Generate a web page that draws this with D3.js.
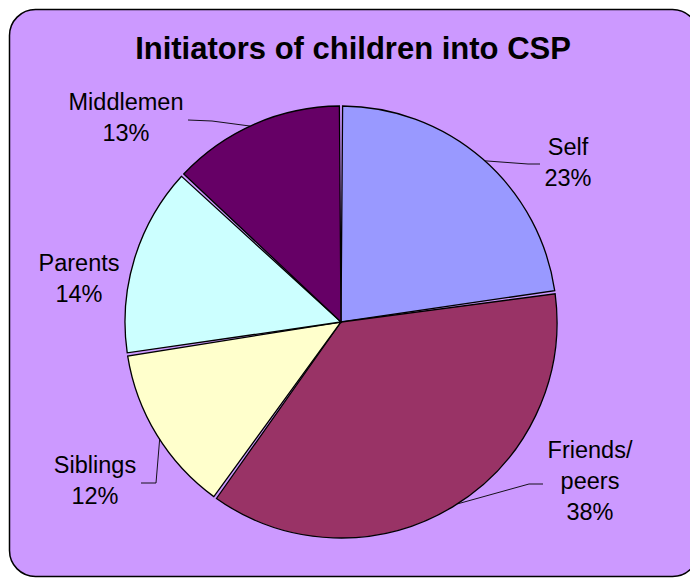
<!DOCTYPE html>
<html>
<head>
<meta charset="utf-8">
<script src="https://cdn.jsdelivr.net/npm/d3@7"></script>
<style>
html,body{margin:0;padding:0;background:#ffffff;}
svg{display:block;}
text{font-family:"Liberation Sans",Arial,sans-serif;}
</style>
</head>
<body>
<svg id="chart" width="690" height="578"></svg>
<script>
// ---- data ----
const categories = ["Self", "Friends/peers", "Siblings", "Parents", "Middlemen"];
// slice sizes as drawn in the reference (its labels show the rounded percentages)
const values = [22.8, 37.1, 12.7, 14.3, 13.1];
const labelLines = [["Self", "23%"], ["Friends/", "peers", "38%"], ["Siblings", "12%"], ["Parents", "14%"], ["Middlemen", "13%"]];
const colors = ["#9999FF", "#993366", "#FFFFCC", "#CCFFFF", "#660066"];
const title = "Initiators of children into CSP";

// ---- layout ----
const cx = 341, cy = 322, R = 216;
const svg = d3.select("#chart");

svg.append("rect")
  .attr("x", 9.5).attr("y", 9.5)
  .attr("width", 689).attr("height", 567)
  .attr("rx", 26).attr("ry", 26)
  .attr("fill", "#CC99FF")
  .attr("stroke", "#000").attr("stroke-width", 1.5);

svg.append("text")
  .attr("x", 353).attr("y", 59)
  .attr("text-anchor", "middle")
  .attr("font-size", 31).attr("font-weight", "bold")
  .attr("fill", "#000")
  .text(title);

const pie = d3.pie().sort(null).value(d => d)(values);
const arc = d3.arc().innerRadius(0).outerRadius(R).padRadius(R).padAngle(3.2 / R);

const g = svg.append("g").attr("transform", `translate(${cx},${cy})`);
g.selectAll("path.slice").data(pie).join("path")
  .attr("class", "slice")
  .attr("d", arc)
  .attr("fill", (d, i) => colors[i])
  .attr("stroke", "#000")
  .attr("stroke-width", 1.3)
  .attr("stroke-linejoin", "miter");

// label layout: text centre x, first baseline y, leader line [bend, end]
const labelPos = [
  {x: 568, y: 155, leader: [[528, 164], [540, 164]], leadAng: 0.7},
  {x: 590, y: 458, leader: [[529, 484], [543, 484]], leadAng: -1.5},
  {x: 95, y: 473, leader: [[156, 483], [141, 483]], leadAng: -1.4},
  {x: 79, y: 271, leader: null, leadAng: 0},
  {x: 126, y: 110, leader: [[212, 121], [188, 120]], leadAng: -1.3}
];
const lineH = 31;

pie.forEach((d, i) => {
  const p = labelPos[i];
  const t = svg.append("text")
    .attr("text-anchor", "middle")
    .attr("font-size", 23.5)
    .attr("fill", "#000");
  labelLines[i].forEach((s, k) => {
    t.append("tspan").attr("x", p.x).attr("y", p.y + k * lineH).text(s);
  });
  if (p.leader) {
    const a = (d.startAngle + d.endAngle) / 2 + p.leadAng * Math.PI / 180;
    const sx = cx + R * Math.sin(a), sy = cy - R * Math.cos(a);
    const pts = [[sx, sy]].concat(p.leader);
    svg.append("path")
      .attr("d", d3.line()(pts))
      .attr("fill", "none")
      .attr("stroke", "#000")
      .attr("stroke-width", 0.9);
  }
});
</script>
</body>
</html>
